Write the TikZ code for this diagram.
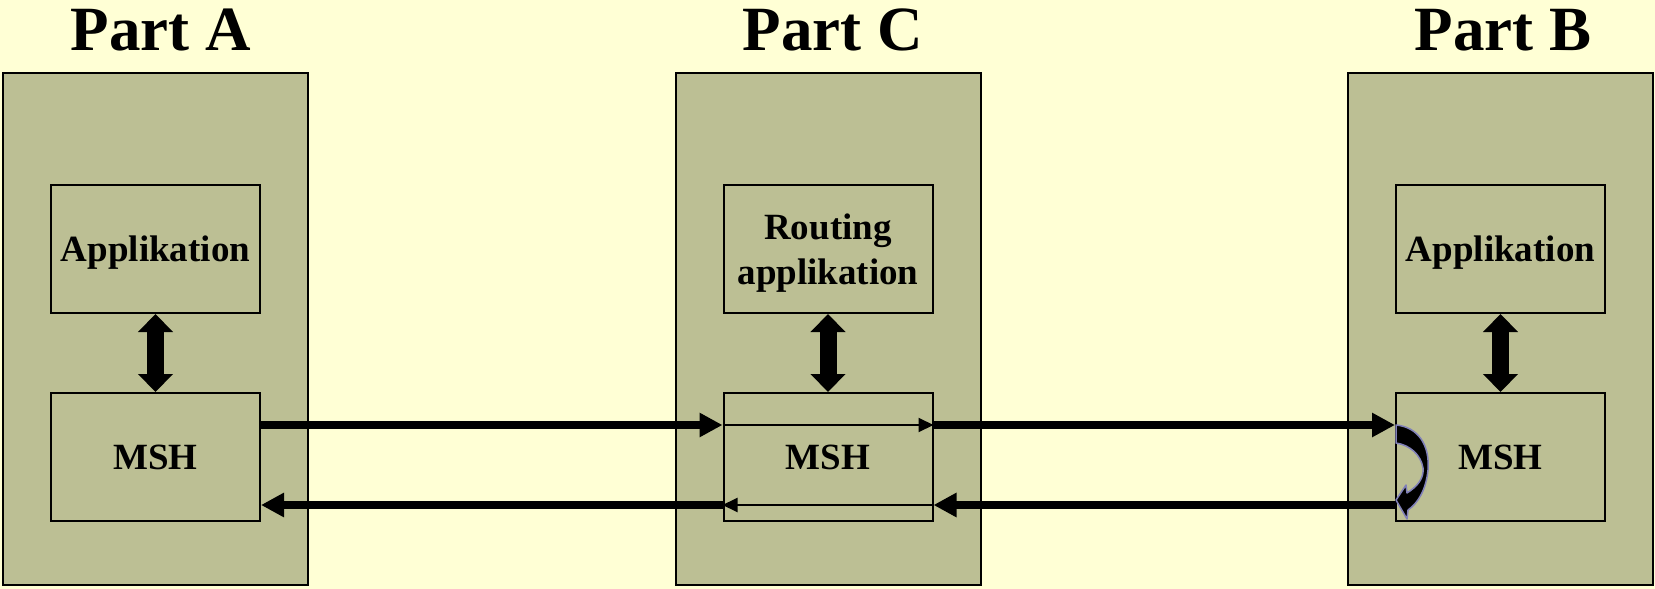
\documentclass[tikz,border=0pt]{standalone}
\usepackage{fontspec}
\setmainfont{Liberation Serif}
\usetikzlibrary{arrows.meta}
\definecolor{bgyellow}{RGB}{255,255,213}
\definecolor{khaki}{RGB}{188,191,148}
\definecolor{lavender}{RGB}{128,128,184}
\begin{document}
\begin{tikzpicture}
[x=1pt,y=-1pt,
partbox/.style={rectangle,draw,line width=2pt,fill=khaki,minimum width=305pt,minimum height=512pt,inner sep=0pt},
innerbox/.style={rectangle,draw,line width=2pt,fill=khaki,minimum width=209pt,minimum height=128pt,inner sep=0pt,align=center,text depth=0pt,font=\fontsize{37}{45}\selectfont\bfseries},
parttitle/.style={anchor=base,font=\fontsize{63}{70}\selectfont\bfseries},
fat/.style={line width=7.5pt,-{Triangle[length=23pt,width=23pt]}},
slim/.style={line width=2pt,-{Triangle[length=15pt,width=14pt]}},
dbl/.style={line width=17pt,{Triangle[length=18pt,width=34pt]}-{Triangle[length=18pt,width=34pt]}}]
\useasboundingbox (0,0) rectangle (1655,589);
\fill[bgyellow] (0,0) rectangle (1655,589);
\foreach \n / \x / \t / \txt in {A/155.5/161/Applikation,C/828/833/{Routing\\applikation},B/1500.5/1503/Applikation}
{
	\node[partbox] (part\n) at (\x,329) {};
	\node[parttitle] (title\n) at (\t,50) {Part \n};
	\node[innerbox] (app\n) at (\x,249) {\txt};
	\node[innerbox] (msh\n) at (\x,457) {MSH};
	\draw[dbl] (app\n) -- (msh\n);
}
%forward
	\draw[fat] ([yshift=32pt]mshA.east) -- ([yshift=32pt]mshC.west);
	\draw[slim] ([yshift=32pt]mshC.west) -- ([yshift=32pt]mshC.east);
	\draw[fat] ([yshift=32pt]mshC.east) -- ([yshift=32pt]mshB.west);
%back
	\draw[fat] ([yshift=-48pt]mshB.west) -- ([yshift=-48pt]mshC.east);
	\draw[slim] ([yshift=-48pt]mshC.east) -- ([yshift=-48pt]mshC.west);
	\draw[fat] ([yshift=-48pt]mshC.west) -- ([yshift=-48pt]mshA.east);
%turn
	\filldraw[draw=lavender,fill=black,line width=1.5pt,line join=round] (1396,425) .. controls (1418,427) and (1430,445) .. (1428,470) .. controls (1426,490) and (1418,503) .. (1408,510) -- (1407,519) -- (1396,500) -- (1406,485) -- (1407,493) .. controls (1418,486) and (1424,478) .. (1423,468) .. controls (1421,455) and (1410,445) .. (1396,443) -- cycle;
\end{tikzpicture}
\end{document}
